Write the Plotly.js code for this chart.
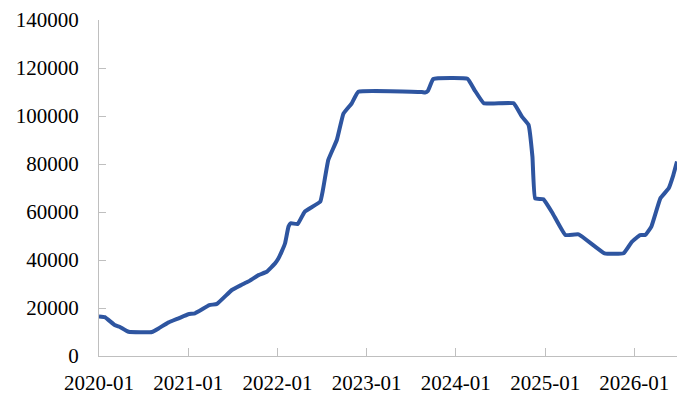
<!DOCTYPE html>
<html>
<head>
<meta charset="utf-8">
<script src="https://cdn.plot.ly/plotly-3.0.1.min.js"></script>
<style>
html,body{margin:0;padding:0;background:#fff;}
#chart{width:700px;height:406px;}
</style>
</head>
<body>
<div id="chart"></div>
<script>
var dates = [
  '2020-01-01','2020-01-25','2020-03-05','2020-03-25','2020-05-01','2020-08-05','2020-09-01','2020-10-10','2020-11-22',
  '2021-01-01','2021-01-28','2021-03-28','2021-04-28','2021-06-28','2021-08-06','2021-09-03','2021-10-15','2021-11-18','2021-12-22',
  '2022-01-04','2022-01-18','2022-02-01','2022-02-15','2022-02-24','2022-03-25','2022-04-22','2022-06-25','2022-07-06','2022-07-28',
  '2022-09-01','2022-09-28','2022-11-01','2022-11-28',
  '2023-08-15','2023-08-28','2023-09-09','2023-10-01',
  '2024-02-18','2024-03-18','2024-04-25','2024-08-25','2024-09-28','2024-10-25','2024-11-10','2024-11-21','2024-12-25',
  '2025-02-01','2025-03-25','2025-05-18','2025-09-01','2025-11-18','2025-12-22',
  '2026-01-25','2026-02-15','2026-03-12','2026-04-18','2026-05-22','2026-06-10','2026-06-25'
];
var values = [
  16500,16200,12900,12200,10100,10000,11500,13900,15700,
  17400,17800,21200,21700,27500,29600,31000,33700,35100,38600,
  40500,43500,47000,53900,55300,55000,60100,64300,69200,81700,
  90000,101000,105300,110100,
  110000,109800,110500,115400,
  115500,110800,105300,105300,99700,96300,83000,65700,65300,
  59400,50400,50700,42800,42800,47600,
  50400,50400,53900,65700,69900,75400,81000
];
var yTicks = [0,20000,40000,60000,80000,100000,120000,140000];

var trace = {
  x: dates, y: values, type: 'scatter', mode: 'lines',
  line: {color: '#2E55A0', width: 4, shape: 'spline', smoothing: 0.3},
  hoverinfo: 'skip'
};
var fam = 'Liberation Serif, Times New Roman, serif';
var layout = {
  width: 700, height: 406,
  margin: {l: 99, r: 23, t: 20, b: 50},
  paper_bgcolor: '#fff', plot_bgcolor: '#fff',
  showlegend: false,
  font: {family: fam, size: 21, color: '#000'},
  xaxis: {
    type: 'date',
    range: ['2020-01-01', '2026-06-25'],
    tick0: '2020-01-01', dtick: 'M12', tickformat: '%Y-%m',
    ticks: 'inside', ticklen: 8, tickcolor: '#bfbfbf', tickwidth: 1,
    showline: true, linecolor: '#bfbfbf', linewidth: 1,
    showgrid: false, zeroline: false,
    tickfont: {family: fam, size: 21, color: '#000'}, ticklabelstandoff: 8
  },
  yaxis: {
    range: [0, 140000],
    tickvals: yTicks,
    ticktext: yTicks.map(String),
    ticks: 'inside', ticklen: 7, tickcolor: '#bfbfbf', tickwidth: 1,
    showline: true, linecolor: '#bfbfbf', linewidth: 1,
    showgrid: false, zeroline: false,
    tickfont: {family: fam, size: 21, color: '#000'}, ticklabelstandoff: 15
  }
};
Plotly.newPlot('chart', [trace], layout, {displayModeBar: false, staticPlot: true});
</script>
</body>
</html>
